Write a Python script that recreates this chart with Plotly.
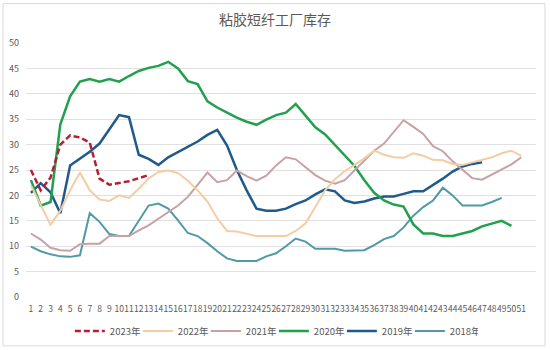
import plotly.graph_objects as go

weeks = list(range(1, 52))
week_labels = [str(w) for w in weeks]

y2023 = [25, 21, 23.5, 30, 31.8, 31.4, 30.4, 23.3, 22.1, 22.4, 22.8, 23.4, 24]

y2022 = [22, 18, 14.2, 17, 21, 24.5, 21, 19.2, 18.9, 20, 19.5, 21.3, 23.3, 24.6, 24.9,
         24.4, 22.9, 21, 18.8, 15.5, 13, 12.9, 12.5, 12, 12, 12, 12, 13, 14.5, 17.7,
         21, 23.2, 24.8, 26, 27.3, 28.8, 28, 27.5, 27.4, 28.3, 27.8, 27, 26.9, 26.2,
         26, 26.5, 27, 27.5, 28.3, 28.8, 27.8]

y2021 = [12.5, 11.3, 9.7, 9.2, 9.1, 10.4, 10.5, 10.5, 12, 12, 12, 13.1, 14.1, 15.4, 16.7,
         18, 19.7, 22.2, 24.5, 22.6, 23, 24.9, 23.8, 22.9, 23.9, 25.9, 27.5, 27.1, 25.5,
         24, 22.9, 22.3, 23, 25, 27, 28.8, 30.2, 32.5, 34.8, 33.5, 32.1, 29.7, 28.7,
         26.7, 25.1, 23.4, 23.1, 24.1, 25.1, 26.1, 27.5]

y2020 = [23, 18, 18.7, 34, 39.5, 42.4, 42.9, 42.4, 42.9, 42.4, 43.5, 44.5, 45.1, 45.5,
         46.3, 45, 42.5, 41.9, 38.5, 37.3, 36.3, 35.3, 34.5, 33.9, 34.9, 35.8, 36.3, 38,
         35.7, 33.4, 32, 30, 27.8, 25.8, 23, 20.5, 19, 18.2, 17.8, 14.3, 12.5, 12.5, 12,
         12, 12.5, 13, 13.9, 14.4, 15, 14]

y2019 = [20.5, 22.4, 20.6, 16.5, 25.9, 27.3, 28.6, 30.2, 33, 35.8, 35.4, 28, 27.2, 26,
         27.5, 28.5, 29.6, 30.6, 31.9, 32.9, 29.8, 25, 21, 17.4, 17, 17, 17.4, 18.3, 19,
         20.2, 21.2, 20.8, 19, 18.5, 18.8, 19.4, 19.8, 19.8, 20.3, 20.8, 20.8, 22, 23.3,
         24.7, 25.7, 26.2, 26.5]

y2018 = [9.9, 9, 8.4, 8, 7.9, 8.2, 16.5, 14.8, 12.4, 12, 12, 15.1, 18, 18.4, 17.4, 15.1,
         12.6, 12, 10.6, 9, 7.6, 7.1, 7.1, 7.1, 8, 8.6, 10, 11.5, 10.9, 9.5, 9.5, 9.5, 9.1,
         9.1, 9.2, 10.2, 11.4, 12, 13.7, 16, 17.7, 19, 21.5, 20, 18, 18, 18, 18.7, 19.5]

y_ticks = [0, 5, 10, 15, 20, 25, 30, 35, 40, 45, 50]

series = [
    ("2018年", y2018, "#4F9AA6", 2, "solid"),
    ("2019年", y2019, "#1F5A8C", 2.5, "solid"),
    ("2020年", y2020, "#22A04E", 2.5, "solid"),
    ("2021年", y2021, "#C7A1A5", 2, "solid"),
    ("2022年", y2022, "#F5CCA4", 2, "solid"),
    ("2023年", y2023, "#B51E36", 2.5, "6px,3px"),
]

fig = go.Figure()
for name, ys, color, width, dash in series:
    fig.add_trace(go.Scatter(
        x=weeks[:len(ys)], y=ys, name=name, mode="lines",
        line=dict(color=color, width=width, dash=dash),
    ))

font_family = "Noto Sans CJK SC, Noto Sans, sans-serif"
grey = "#595959"

fig.update_layout(
    width=550, height=350,
    margin=dict(l=26, r=14, t=42.5, b=53, autoexpand=False),
    paper_bgcolor="white", plot_bgcolor="white",
    font=dict(family=font_family, color=grey, size=9),
    title=dict(text="粘胶短纤工厂库存", x=0.5, xanchor="center", y=0.943, yanchor="middle",
               font=dict(size=14, color=grey, family=font_family)),
    showlegend=True,
    legend=dict(orientation="h", traceorder="reversed", x=0.486, xanchor="center",
                y=-0.1336, yanchor="middle", font=dict(size=9.5, color=grey),
                entrywidth=23, bgcolor="rgba(0,0,0,0)"),
    xaxis=dict(range=[0.5, 52.5], tickmode="array", tickvals=weeks, ticktext=week_labels,
               tickangle=0, showgrid=False, zeroline=False, showline=False,
               ticklabelstandoff=5, tickfont=dict(size=8.5, color=grey)),
    yaxis=dict(range=[0, 50], tickmode="array", tickvals=y_ticks,
               ticktext=[str(v) for v in y_ticks], showgrid=True, gridcolor="#e0e0e0",
               gridwidth=1, zeroline=False, showline=False, ticklabelstandoff=6,
               tickfont=dict(size=9, color=grey)),
    shapes=[dict(type="rect", xref="paper", yref="paper",
                 x0=-0.045, x1=1.0176, y0=-0.1925, y1=1.155,
                 line=dict(color="#d9d9d9", width=1), layer="below")],
)

fig.write_html("out.html")
